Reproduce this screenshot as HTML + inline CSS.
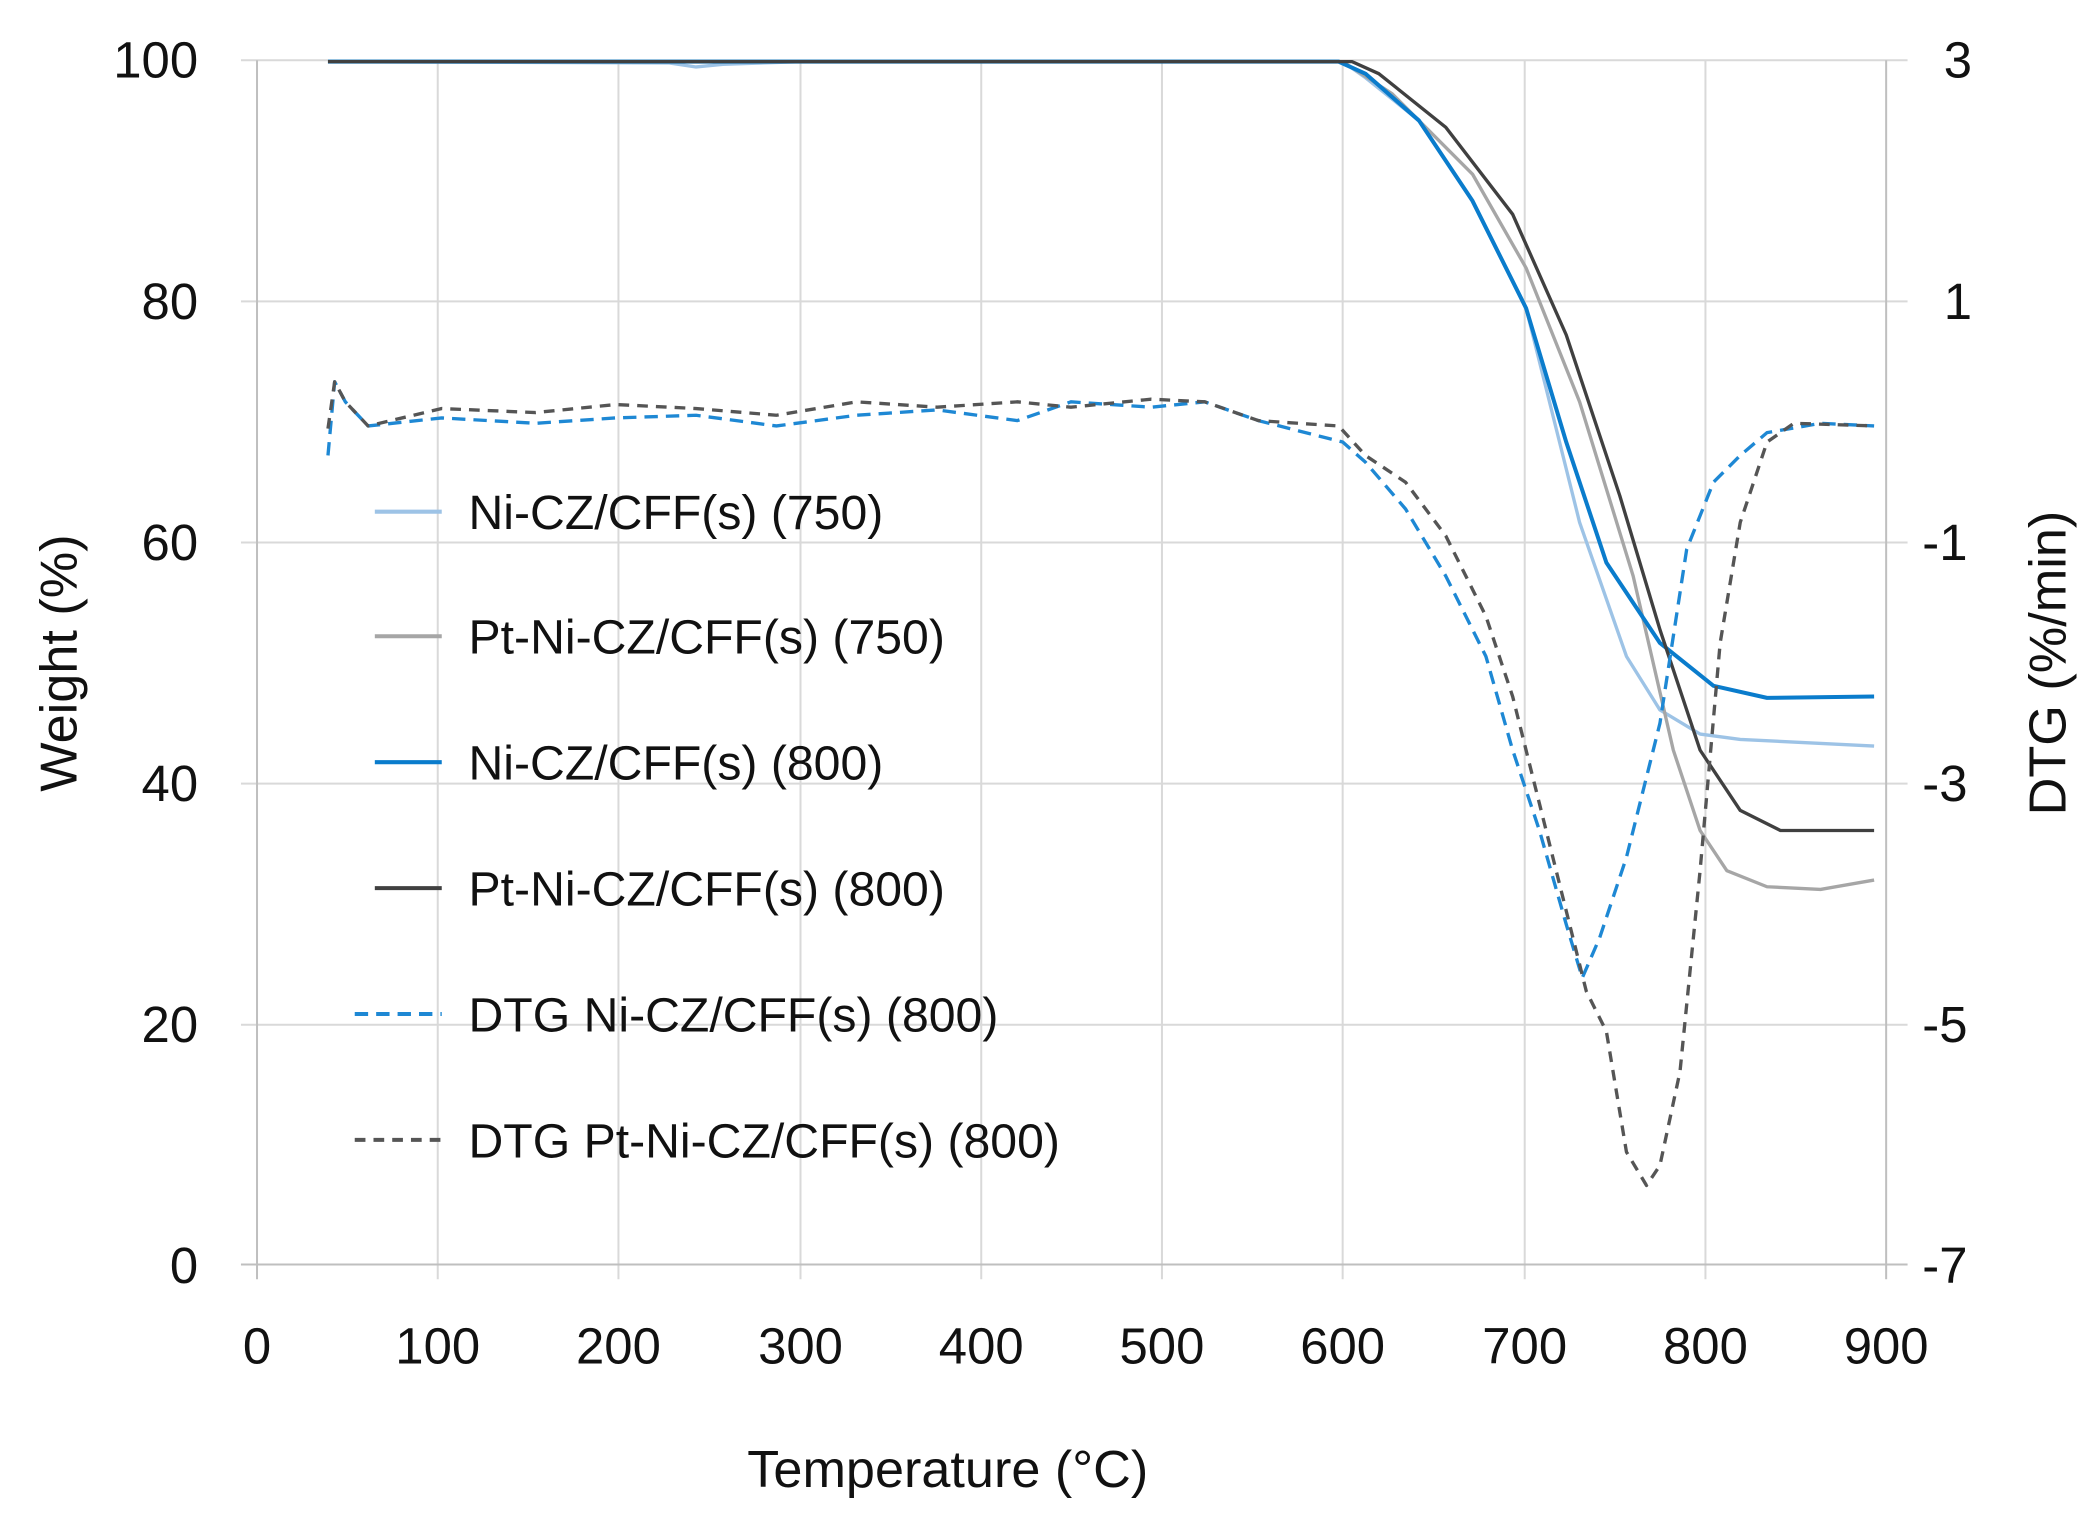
<!DOCTYPE html>
<html><head><style>html,body{margin:0;padding:0;background:#fff}svg{display:block}</style></head>
<body>
<svg width="2099" height="1519" viewBox="0 0 1568 1134" preserveAspectRatio="none" xmlns="http://www.w3.org/2000/svg" font-family="Liberation Sans, sans-serif">
<g stroke="#d9d9d9" stroke-width="1.5">
<line x1="180" y1="45" x2="1425" y2="45"/><line x1="180" y1="225" x2="1425" y2="225"/><line x1="180" y1="405" x2="1425" y2="405"/><line x1="180" y1="585" x2="1425" y2="585"/><line x1="180" y1="765" x2="1425" y2="765"/>
<line x1="327" y1="45" x2="327" y2="955"/><line x1="462" y1="45" x2="462" y2="955"/><line x1="598" y1="45" x2="598" y2="955"/><line x1="733" y1="45" x2="733" y2="955"/><line x1="868" y1="45" x2="868" y2="955"/><line x1="1003" y1="45" x2="1003" y2="955"/><line x1="1139" y1="45" x2="1139" y2="955"/><line x1="1274" y1="45" x2="1274" y2="955"/>
</g>
<g stroke="#bfbfbf" stroke-width="1.5"><line x1="192" y1="45" x2="192" y2="955"/><line x1="1409" y1="45" x2="1409" y2="944"/><line x1="180" y1="944" x2="1425" y2="944"/><line x1="1409" y1="944" x2="1409" y2="955"/></g>
<g font-size="38" fill="#111" text-anchor="end">
<text x="148" y="58">100</text><text x="148" y="238">80</text><text x="148" y="418">60</text><text x="148" y="598">40</text><text x="148" y="778">20</text><text x="148" y="958">0</text></g>
<g font-size="38" fill="#111" text-anchor="start">
<text x="1452" y="58">3</text><text x="1452" y="238">1</text><text x="1436" y="418">-1</text><text x="1436" y="598">-3</text><text x="1436" y="778">-5</text><text x="1436" y="958">-7</text></g>
<g font-size="38" fill="#111" text-anchor="middle">
<text x="192" y="1018">0</text><text x="327" y="1018">100</text><text x="462" y="1018">200</text><text x="598" y="1018">300</text><text x="733" y="1018">400</text><text x="868" y="1018">500</text><text x="1003" y="1018">600</text><text x="1139" y="1018">700</text><text x="1274" y="1018">800</text><text x="1409" y="1018">900</text>
<text x="708" y="1110" font-size="39">Temperature (°C)</text>
<text transform="translate(57,495) rotate(-90)" font-size="39">Weight (%)</text>
<text transform="translate(1543,495) rotate(-90)" font-size="39">DTG (%/min)</text></g>
<g fill="none" stroke-width="2.5" stroke-linejoin="round">
<path stroke="#9dc3e6" d="M245,46 L500,47 L520,50 L540,48 L600,46 L1003,46 L1020,58 L1060,90 L1100,150 L1140,230 L1180,390 L1215,490 L1240,530 L1270,548 L1300,552 L1400,557"/>
<path stroke="#a6a6a6" d="M245,46 L1003,46 L1040,70 L1100,130 L1140,200 L1180,300 L1220,430 L1250,560 L1270,620 L1290,650 L1320,662 L1360,664 L1400,657"/>
<path stroke="#0a7ccc" stroke-width="3" d="M245,46 L1000,46 L1020,55 L1060,90 L1100,150 L1140,230 L1170,330 L1200,420 L1240,480 L1280,512 L1320,521 L1400,520"/>
<path stroke="#404040" d="M245,46 L1010,46 L1030,55 L1080,95 L1130,160 L1170,250 L1210,370 L1240,470 L1270,560 L1300,605 L1330,620 L1400,620"/>
<path stroke="#1e88d4" stroke-dasharray="10,6" d="M245,340 L250,285 L258,300 L275,318 L330,312 L400,316 L460,312 L520,310 L580,318 L640,310 L700,306 L760,314 L800,300 L860,304 L900,300 L940,314 L1003,330 L1020,345 L1050,380 L1080,430 L1110,490 L1130,560 L1150,620 L1170,690 L1182,730 L1195,700 L1215,640 L1240,540 L1260,410 L1280,360 L1300,340 L1320,323 L1360,316 L1400,318"/>
<path stroke="#555" stroke-dasharray="8,6" d="M245,320 L250,285 L258,300 L275,318 L330,305 L400,308 L460,302 L520,305 L580,310 L640,300 L700,304 L760,300 L800,304 L860,298 L900,300 L940,314 L1000,318 L1020,340 L1050,360 L1080,400 L1110,460 L1130,520 L1150,600 L1170,680 L1185,740 L1200,770 L1215,860 L1230,885 L1240,870 L1255,800 L1270,650 L1285,480 L1300,390 L1320,330 L1340,316 L1400,318"/>
</g>
<g stroke-width="3">
<line x1="280" y1="382" x2="330" y2="382" stroke="#9dc3e6"/>
<line x1="280" y1="475" x2="330" y2="475" stroke="#a6a6a6"/>
<line x1="280" y1="569" x2="330" y2="569" stroke="#0a7ccc"/>
<line x1="280" y1="663" x2="330" y2="663" stroke="#404040"/>
<line x1="265" y1="757" x2="330" y2="757" stroke="#1e88d4" stroke-dasharray="10,6"/>
<line x1="265" y1="851" x2="330" y2="851" stroke="#555" stroke-dasharray="8,6"/>
</g>
<g font-size="36" fill="#111">
<text x="350" y="395">Ni-CZ/CFF(s) (750)</text>
<text x="350" y="488">Pt-Ni-CZ/CFF(s) (750)</text>
<text x="350" y="582">Ni-CZ/CFF(s) (800)</text>
<text x="350" y="676">Pt-Ni-CZ/CFF(s) (800)</text>
<text x="350" y="770">DTG Ni-CZ/CFF(s) (800)</text>
<text x="350" y="864">DTG Pt-Ni-CZ/CFF(s) (800)</text>
</g>
</svg>
</body></html>
